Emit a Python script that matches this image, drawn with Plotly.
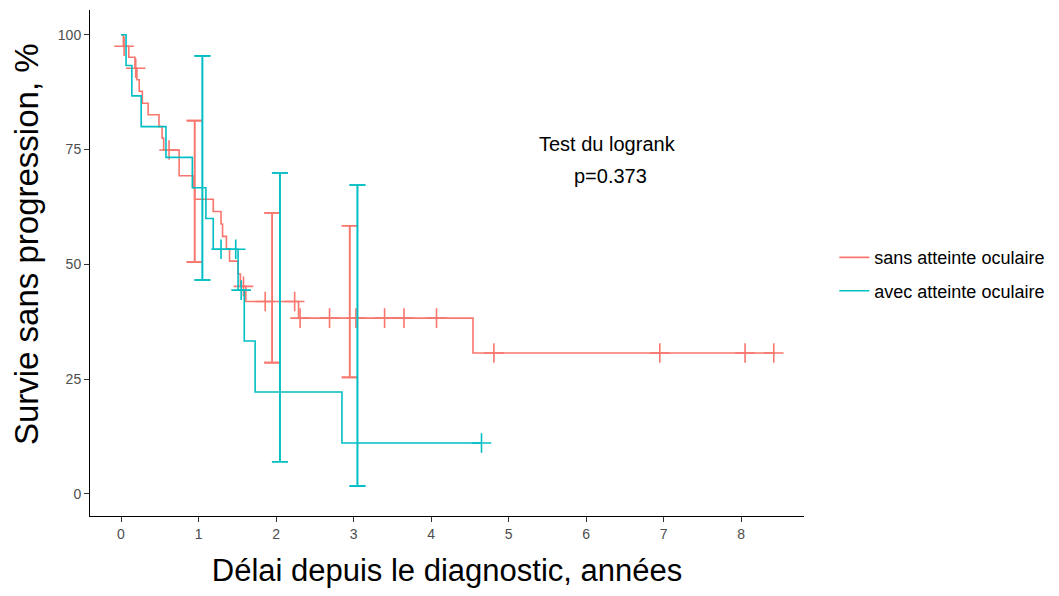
import plotly.graph_objects as go

# ---------------- data ----------------
# Kaplan-Meier step curves (time of each drop, survival level after the drop, %)
sans_times = [0.03, 0.10, 0.18, 0.205, 0.235, 0.275, 0.35, 0.49, 0.53, 0.55, 0.75, 0.93, 0.95,
              1.19, 1.29, 1.31, 1.36, 1.40, 1.51, 1.54, 1.61, 2.29, 4.54]
sans_surv = [97.5, 95.1, 92.7, 90.2, 87.7, 85.1, 82.6, 80.0, 77.5, 74.9, 69.3, 66.7, 64.2,
             61.5, 58.8, 56.1, 53.4, 50.7, 47.9, 45.2, 41.9, 38.3, 30.7]
sans_cens_t = [0.04, 0.19, 0.62, 1.58, 1.86, 2.24, 2.31, 2.69, 3.03, 3.40, 3.65, 4.07, 4.81, 6.95, 8.05, 8.42]
sans_cens_s = [97.5, 92.7, 74.9, 45.2, 41.9, 41.9, 38.3, 38.3, 38.3, 38.3, 38.3, 38.3, 30.7, 30.7, 30.7, 30.7]

avec_times = [0.065, 0.14, 0.26, 0.58, 0.92, 1.095, 1.19, 1.51, 1.59, 1.73, 2.85]
avec_surv = [93.3, 86.7, 80.0, 73.3, 66.7, 60.0, 53.3, 44.4, 33.3, 22.2, 11.1]
avec_cens_t = [1.29, 1.48, 1.55, 4.65]
avec_cens_s = [53.3, 53.3, 44.4, 11.1]

# confidence intervals at 1, 2, 3 years (dodged)
ci_years = [1, 2, 3]
sans_ci_low = [50.5, 28.6, 25.4]
sans_ci_high = [81.3, 61.2, 58.4]
avec_ci_low = [46.6, 7.0, 1.7]
avec_ci_high = [95.4, 69.9, 67.3]

x_ticks = [0, 1, 2, 3, 4, 5, 6, 7, 8]
y_ticks = [0, 25, 50, 75, 100]

RED = "#F8766D"
CYAN = "#00BFC4"
FONT = "Liberation Sans, Arial, sans-serif"
LW = 1.6

fig = go.Figure()


def add_group(name, times, surv, ct, cs, lo, hi, dodge, color):
    xs = [0] + list(times) + [max(ct + list(times))]
    ys = [100] + list(surv) + [surv[-1]]
    fig.add_trace(go.Scatter(x=xs, y=ys, mode="lines", line=dict(color=color, width=LW, shape="hv"),
                             name=name, legendgroup=name, showlegend=True, hoverinfo="skip"))
    fig.add_trace(go.Scatter(x=ct, y=cs, mode="markers", legendgroup=name,
                             marker=dict(symbol="cross-thin", size=14, color=color,
                                         line=dict(color=color, width=LW)),
                             showlegend=False, hoverinfo="skip"))
    xd = [y + dodge for y in ci_years]
    fig.add_trace(go.Scatter(x=xd, y=lo, mode="markers", legendgroup=name,
                             marker=dict(size=1, color="rgba(0,0,0,0)"),
                             error_y=dict(type="data", symmetric=False,
                                          array=[h - l for h, l in zip(hi, lo)],
                                          arrayminus=[0] * len(lo),
                                          color=color, thickness=LW, width=8),
                             showlegend=False, hoverinfo="skip"))
    fig.add_trace(go.Scatter(x=xd, y=hi, mode="markers", legendgroup=name,
                             marker=dict(size=1, color="rgba(0,0,0,0)"),
                             error_y=dict(type="data", symmetric=False,
                                          array=[0] * len(hi),
                                          arrayminus=[h - l for h, l in zip(hi, lo)],
                                          color=color, thickness=LW, width=8),
                             showlegend=False, hoverinfo="skip"))


add_group("sans atteinte oculaire", sans_times, sans_surv, sans_cens_t, sans_cens_s,
          sans_ci_low, sans_ci_high, -0.05, RED)
add_group("avec atteinte oculaire", avec_times, avec_surv, avec_cens_t, avec_cens_s,
          avec_ci_low, avec_ci_high, 0.05, CYAN)

fig.add_annotation(x=6.27, y=76.2, xref="x", yref="y", text="Test du logrank",
                   showarrow=False, font=dict(family=FONT, size=20, color="black"))
fig.add_annotation(x=6.32, y=69.3, xref="x", yref="y", text="p=0.373",
                   showarrow=False, font=dict(family=FONT, size=20, color="black"))

# y axis title (placed as rotated text to match the reference position)
fig.add_annotation(x=-0.0895, y=0.5375, xref="paper", yref="paper",
                   text="Survie sans progression, %", textangle=-90,
                   xanchor="center", yanchor="middle", showarrow=False, borderpad=0,
                   font=dict(family=FONT, size=33, color="black"))

fig.update_layout(
    width=1043, height=580,
    margin=dict(l=82, r=246, t=2, b=72),
    paper_bgcolor="white", plot_bgcolor="white",
    font=dict(family=FONT),
    legend=dict(x=1.041, y=0.478, xanchor="left", yanchor="middle",
                font=dict(family=FONT, size=18, color="black"),
                bgcolor="rgba(0,0,0,0)", traceorder="grouped", tracegroupgap=7),
    showlegend=True,
)
fig.update_xaxes(range=[-0.40, 8.81], tickvals=x_ticks, ticktext=[str(v) for v in x_ticks],
                 showgrid=False, zeroline=False, showline=True, linecolor="black", linewidth=1,
                 ticks="outside", ticklen=5, tickcolor="#333333", tickwidth=1,
                 tickfont=dict(family=FONT, size=14, color="#4D4D4D"),
                 title=dict(text="Délai depuis le diagnostic, années",
                            font=dict(family=FONT, size=31, color="black"), standoff=22))
fig.update_yaxes(range=[-4.8, 105.4], tickvals=y_ticks, ticktext=[str(v) for v in y_ticks],
                 showgrid=False, zeroline=False, showline=True, linecolor="black", linewidth=1,
                 ticks="outside", ticklen=5, tickcolor="#333333", tickwidth=1,
                 tickfont=dict(family=FONT, size=14, color="#4D4D4D"))

fig.write_html("out.html")
